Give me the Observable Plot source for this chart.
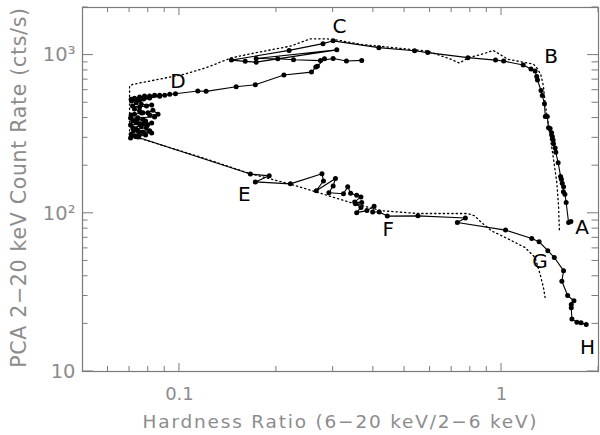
<!DOCTYPE html>
<html><head><meta charset="utf-8">
<script src="https://cdn.jsdelivr.net/npm/d3@7"></script>
<script src="https://cdn.jsdelivr.net/npm/@observablehq/plot@0.6"></script>
<style>html,body{margin:0;padding:0;background:#fff} svg{display:block}</style>
</head><body><div id="chart"></div>
<script>
// Observed outburst track (time order A -> H); null marks a gap between observations
const hardness = [
  1.642,1.615,1.587,1.573,1.556,1.558,1.543,1.534,1.525,1.499,1.474,1.467,1.450,1.446,1.438,1.430,1.415,1.399,1.387,1.367,
  1.359,1.338,1.326,1.293,1.286,1.271,1.234,1.167,1.015,0.958,0.786,0.590,0.537,0.416,0.300,
  0.279,0.219,0.145,0.160,0.173,0.308,0.173,0.202,0.226,0.274,0.300,0.330,0.368,null,
  0.282,0.268,0.265,0.257,0.211,0.172,0.150,0.121,0.114,
  0.0972,0.0933,0.0900,0.0868,0.0837,0.0808,0.0779,0.0752,0.0725,0.0708,0.0779,0.0868,
  0.0752,0.0710,0.0741,0.0774,0.0808,0.0734,0.0715,0.0752,0.0790,0.0820,0.0761,0.0725,0.0752,0.0763,
  0.0725,0.0708,0.0770,0.0798,0.0827,0.0858,0.0808,0.0837,0.0743,0.0705,0.0736,0.0770,0.0785,0.0716,
  0.0734,0.0779,0.0820,0.0705,0.0752,0.0796,0.0761,0.0716,0.0734,0.0789,0.0808,0.0743,0.0720,0.0768,
  0.0820,0.0708,0.0725,0.0752,0.0785,0.0705,0.0746,0.0734,
  0.166,0.190,0.172,0.221,0.277,0.280,0.266,0.305,0.300,0.291,0.323,0.333,0.340,0.355,0.366,0.350,
  0.368,0.352,0.366,0.355,0.382,0.402,0.398,0.417,0.442,0.550,0.772,0.729,1.029,1.241,1.308,1.392,
  1.458,1.558,1.539,1.604,1.678,1.646,1.646,1.654,1.714,1.765,1.832
];
const rate = [
  88.8,87.5,117,132,137,147,155,164,171,209,243,259,275,291,306,323,344,348,409,409,
  493,555,597,696,732,793,816,865,917,930,964,1037,1065,1115,1231,
  1182,1071,930,913,903,1080,953,948,934,923,953,917,926,null,
  948,849,840,781,748,649,631,590,593,
  570,565,557,557,557,551,551,543,533,526,540,550,
  520,513,520,528,535.5,500,477,470,477,484,489,456.5,443,430.6,
  423,418,432,432,448,423,418,406,402,400,389,393,383,383,
  374,374,372,362,367,362,357,348,340,348,332,332,332,327,
  322,316,308,316,313,299,304,305,
  177,172.5,158,153.5,178,160,139,166,149,135,133,147,134,130,127,118,
  117,115,109,101,104,111,102,102,96,96.4,93.3,87.5,78.3,69.3,66.1,58,
  52.6,43.4,37.2,30.2,28,26.5,25.3,21.5,20.5,20.3,19.8
];
// Comparison track (dotted)
const modelHardness = [
  1.512,1.503,1.485,1.450,1.417,1.399,1.365,1.349,1.324,1.286,1.256,1.049,0.942,0.866,0.787,0.740,0.698,
  0.590,0.416,0.366,0.317,0.288,0.255,0.221,0.172,0.145,0.121,0.103,0.0716,0.0700,0.0700,0.0741,
  0.116,0.166,0.221,0.280,0.340,0.422,0.550,0.787,0.825,0.866,0.931,1.049,1.182,1.271,1.317,1.349,1.365
];
const modelRate = [
  78.7,111.5,156,220,299,357,500,638,755,832,878,940,1071,1010,962,890,940,
  1059,1140,1168,1235,1267,1267,1140,1034,962,832,755,653,638,308,301,
  227,178,153,132,117,104,99.7,99.7,96.4,87.5,77.5,68.8,60.8,52.6,41.3,34.0,29.4
];
const labelText = ["A","B","C","D","E","F","G","H"];
const labelHardness = [1.779,1.424,0.314,0.099,0.159,0.445,1.317,1.849];
const labelRate = [81.8,978,1513,678,131,78.7,49.6,14.2];

const xTitle = "Hardness Ratio (6\u221220 keV/2\u22126 keV)";
const yTitle = "PCA 2\u221220 keV Count Rate (cts/s)";
const xTickValues = [0.1, 1];
const xTickLabels = ["0.1", "1"];
const xMinorTicks = [0.06,0.07,0.08,0.09,0.2,0.3,0.4,0.5,0.6,0.7,0.8,0.9,2];
const yTickValues = [10, 100, 1000];
const yTickLabels = ["10", "10\u00B2", "10\u00B3"];
const yMinorTicks = [20,30,40,50,60,70,80,90,200,300,400,500,600,700,800,900,2000];

const track = hardness.map((h, i) => ({h, r: rate[i]}));
const model = modelHardness.map((h, i) => ({h, r: modelRate[i]}));
const labels = labelText.map((t, i) => ({t, h: labelHardness[i], r: labelRate[i]}));

const W = 600, H = 435, mL = 82, mR = 2, mT = 7, mB = 64;
const gray = "#8c8c8c";
const tickGray = "#7a7a7a";

const chart = Plot.plot({
  width: W, height: H,
  marginLeft: mL, marginRight: mR, marginTop: mT, marginBottom: mB,
  style: {fontFamily: "'DejaVu Sans', sans-serif", background: "#fff", color: gray, overflow: "visible"},
  x: {type: "log", domain: [0.05, 2]},
  y: {type: "log", domain: [10, 2000]},
  marks: [
    Plot.frame({stroke: tickGray, strokeWidth: 1.2}),
    Plot.axisX({ticks: xTickValues, tickSize: 0, tickPadding: 16, fontSize: 18,
      tickFormat: d => xTickLabels[xTickValues.indexOf(d)], label: null}),
    Plot.axisY({ticks: yTickValues, tickSize: 0, tickPadding: 7, fontSize: 19.5,
      tickFormat: d => yTickLabels[yTickValues.indexOf(d)], label: null}),
    Plot.text([xTitle], {frameAnchor: "bottom", dy: 51, fontSize: 18.5, fill: gray, lineAnchor: "middle",
      textAnchor: "middle", text: d => d}),
    Plot.text([yTitle], {frameAnchor: "left", dx: -63.5, dy: -2, rotate: -90, fontSize: 20.5, fill: gray, lineAnchor: "middle",
      textAnchor: "middle", text: d => d}),
    Plot.line(model, {x: "h", y: "r", stroke: "#000", strokeWidth: 1.3, strokeDasharray: "1.3,3"}),
    Plot.line(track, {x: "h", y: "r", stroke: "#000", strokeWidth: 1.1}),
    Plot.dot(track, {x: "h", y: "r", r: 2.5, fill: "#000"}),
    Plot.text(labels, {x: "h", y: "r", text: "t", fontSize: 20, fill: "#000"})
  ]
});

// inward-pointing tick marks on all four sides, placed with the chart's own scales
(function () {
  const sx = chart.scale("x"), sy = chart.scale("y");
  const yTop = mT, yBottom = H - mB, xLeft = mL, xRight = W - mR;
  const g = d3.select(chart).append("g").attr("stroke", tickGray).attr("stroke-width", 1);
  function xt(v, len) {
    const px = sx.apply(v);
    g.append("line").attr("x1", px).attr("x2", px).attr("y1", yBottom).attr("y2", yBottom - len);
    g.append("line").attr("x1", px).attr("x2", px).attr("y1", yTop).attr("y2", yTop + len);
  }
  function yt(v, lenL, lenR) {
    const py = sy.apply(v);
    g.append("line").attr("y1", py).attr("y2", py).attr("x1", xLeft).attr("x2", xLeft + lenL);
    g.append("line").attr("y1", py).attr("y2", py).attr("x1", xRight).attr("x2", xRight - lenR);
  }
  xTickValues.forEach(v => xt(v, 8));
  xMinorTicks.forEach(v => xt(v, 5));
  yTickValues.forEach(v => yt(v, 11, 11));
  yMinorTicks.forEach(v => yt(v, 5.5, 6.5));
  // wide letter spacing of the axis titles, as in the original plot
  d3.select(chart).selectAll("text").filter(function () { return this.textContent === xTitle; })
    .style("letter-spacing", "1.8px");
  d3.select(chart).selectAll("text").filter(function () { return this.textContent === yTitle; })
    .style("letter-spacing", "0.7px");
})();

document.getElementById("chart").appendChild(chart);
</script>
</body></html>
